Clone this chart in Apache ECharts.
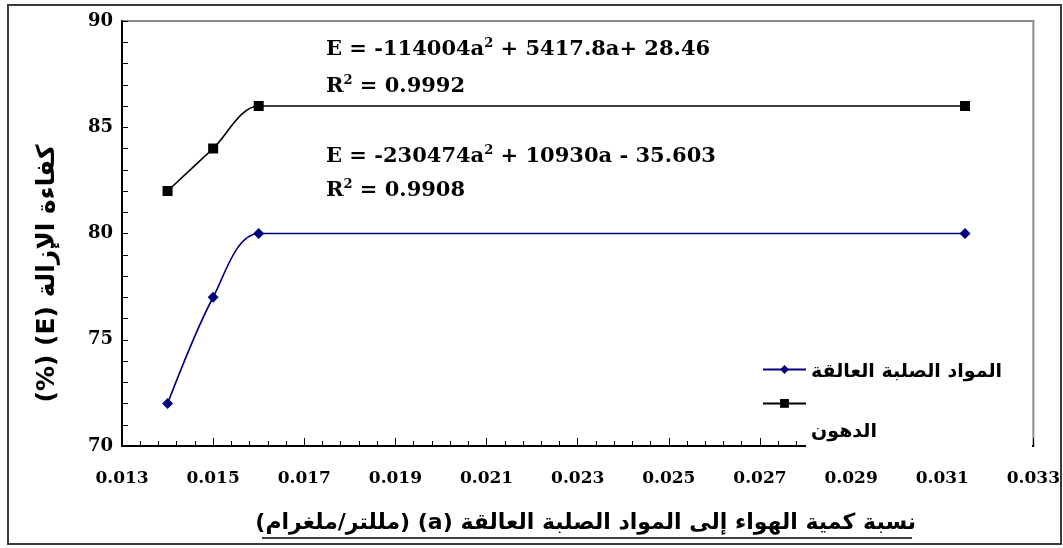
<!DOCTYPE html>
<html>
<head>
<meta charset="utf-8">
<script src="https://cdn.jsdelivr.net/npm/echarts@6/dist/echarts.min.js"></script>
<style>
  html, body { margin: 0; padding: 0; background: #ffffff; }
  #chart { width: 1063px; height: 548px; }
</style>
</head>
<body>
<div id="chart"></div>
<script>
// Air-to-solids ratio (a), ml/mg
const airRatio = [0.014, 0.015, 0.016, 0.0315];
// Removal efficiency (%) of suspended solids and of oil
const solidsRemoval = [72, 77, 80, 80];
const oilRemoval = [82, 84, 86, 86];

const seriesNames = ['المواد الصلبة العالقة', 'الدهون'];

// Axis ranges and tick steps
const xRange = [0.013, 0.033];
const xStep = 0.002;
const yRange = [70, 90];
const yStep = 5;

// Fitted trend equations (text)
const oilEquation = ['E = -114004a', '2', ' + 5417.8a+ 28.46'];
const oilR2 = ['R', '2', ' = 0.9992'];
const solidsEquation = ['E = -230474a', '2', ' + 10930a - 35.603'];
const solidsR2 = ['R', '2', ' = 0.9908'];

// RTL embedding so Arabic titles keep their logical word order
const rtl = s => '\u202B' + s + '\u202C';
const yTitle = rtl('كفاءة الإزالة (E) (%)');
const xTitle = rtl('نسبة كمية الهواء إلى المواد الصلبة العالقة (a) (مللتر/ملغرام)');

const numFont = 'DejaVu Serif';
const arFont = 'DejaVu Sans';

const pairs = ys => airRatio.map((x, i) => [x, ys[i]]);
const eqText = parts => parts[0] + '{s|' + parts[1] + '}' + parts[2];
const eqStyle = {
  fontFamily: numFont, fontWeight: 'bold', fontSize: 21, fill: '#000',
  rich: { s: { fontFamily: numFont, fontWeight: 'bold', fontSize: 13, verticalAlign: 'top', lineHeight: 26 } },
  lineHeight: 26, verticalAlign: 'middle'
};

// legend label style; the pad value moves a label below its symbol
const legendLabel = pad => ({
  rich: { t: { fontFamily: arFont, fontWeight: 'bold', fontSize: 19, color: '#000', padding: [pad, 0, 0, 0] } }
});

const chart = echarts.init(document.getElementById('chart'), null, { renderer: 'canvas' });

chart.setOption({
  animation: false,
  backgroundColor: '#ffffff',
  grid: {
    left: 122, top: 21, right: 27, bottom: 102,
    show: true, borderColor: '#8c8c8c', borderWidth: 2, backgroundColor: 'transparent'
  },
  xAxis: {
    type: 'value',
    min: xRange[0], max: xRange[1], interval: xStep,
    axisLine: { show: true, onZero: false, lineStyle: { color: '#000', width: 2 } },
    axisTick: { show: true, inside: true, length: 8, lineStyle: { color: '#000', width: 1 } },
    minorTick: { show: true, splitNumber: 5, length: 5, lineStyle: { color: '#000', width: 1 } },
    splitLine: { show: false },
    axisLabel: {
      margin: 24, color: '#000', fontFamily: numFont, fontWeight: 'bold', fontSize: 17,
      formatter: v => v.toFixed(3)
    },
    name: xTitle,
    nameLocation: 'middle',
    nameGap: 66,
    nameTextStyle: { fontFamily: arFont, fontWeight: 'bold', fontSize: 22, color: '#000', padding: [0, 0, 0, 16] }
  },
  yAxis: {
    type: 'value',
    min: yRange[0], max: yRange[1], interval: yStep,
    axisLine: { show: true, onZero: false, lineStyle: { color: '#000', width: 2 } },
    axisTick: { show: true, inside: true, length: 6, lineStyle: { color: '#000', width: 1 } },
    minorTick: { show: true, splitNumber: 5, length: 6, lineStyle: { color: '#000', width: 1 } },
    splitLine: { show: false },
    axisLabel: { margin: 9, color: '#000', fontFamily: numFont, fontWeight: 'bold', fontSize: 18 },
    name: yTitle,
    nameLocation: 'middle',
    nameRotate: 90,
    nameGap: 62,
    nameTextStyle: { fontFamily: arFont, fontWeight: 'bold', fontSize: 25, color: '#000', padding: [0, 80, 0, 0] }
  },
  legend: [
    {
      data: [seriesNames[0]],
      formatter: '{t|{name}}',
      orient: 'vertical', left: 762, top: 363, padding: 0,
      itemWidth: 43, itemHeight: 11, selectedMode: false,
      textStyle: legendLabel(6)
    },
    {
      data: [seriesNames[1]],
      formatter: '{t|{name}}',
      orient: 'vertical', left: 762, top: 399, padding: 0,
      itemWidth: 43, itemHeight: 11, selectedMode: false,
      textStyle: legendLabel(58)
    }
  ],
  graphic: [
    // white backing behind the legend labels
    { type: 'rect', z: 3, silent: true, shape: { x: 806, y: 436, width: 226, height: 13 }, style: { fill: '#ffffff' } },
    // outer chart frame
    { type: 'rect', z: 10, silent: true, shape: { x: 8, y: 5, width: 1053, height: 539 }, style: { fill: 'none', stroke: '#3a3a3a', lineWidth: 2 } },
    // underline of the x-axis title
    { type: 'line', z: 10, silent: true, shape: { x1: 262, y1: 538, x2: 912, y2: 538 }, style: { stroke: '#000', lineWidth: 1.5 } },
    { type: 'text', z: 10, silent: true, x: 326, y: 50, style: Object.assign({ text: eqText(oilEquation) }, eqStyle) },
    { type: 'text', z: 10, silent: true, x: 326, y: 87, style: Object.assign({ text: eqText(oilR2) }, eqStyle) },
    { type: 'text', z: 10, silent: true, x: 326, y: 157, style: Object.assign({ text: eqText(solidsEquation) }, eqStyle) },
    { type: 'text', z: 10, silent: true, x: 326, y: 191, style: Object.assign({ text: eqText(solidsR2) }, eqStyle) }
  ],
  series: [
    {
      name: seriesNames[0],
      type: 'line',
      data: pairs(solidsRemoval),
      smooth: 0.3,
      symbol: 'diamond',
      symbolSize: 11,
      color: '#000080',
      itemStyle: { color: '#000080' },
      lineStyle: { color: '#000080', width: 1.6 }
    },
    {
      name: seriesNames[1],
      type: 'line',
      data: pairs(oilRemoval),
      smooth: 0.3,
      symbol: 'rect',
      symbolSize: 10,
      color: '#000000',
      itemStyle: { color: '#000000' },
      lineStyle: { color: '#000000', width: 1.6 }
    }
  ]
});
</script>
</body>
</html>
